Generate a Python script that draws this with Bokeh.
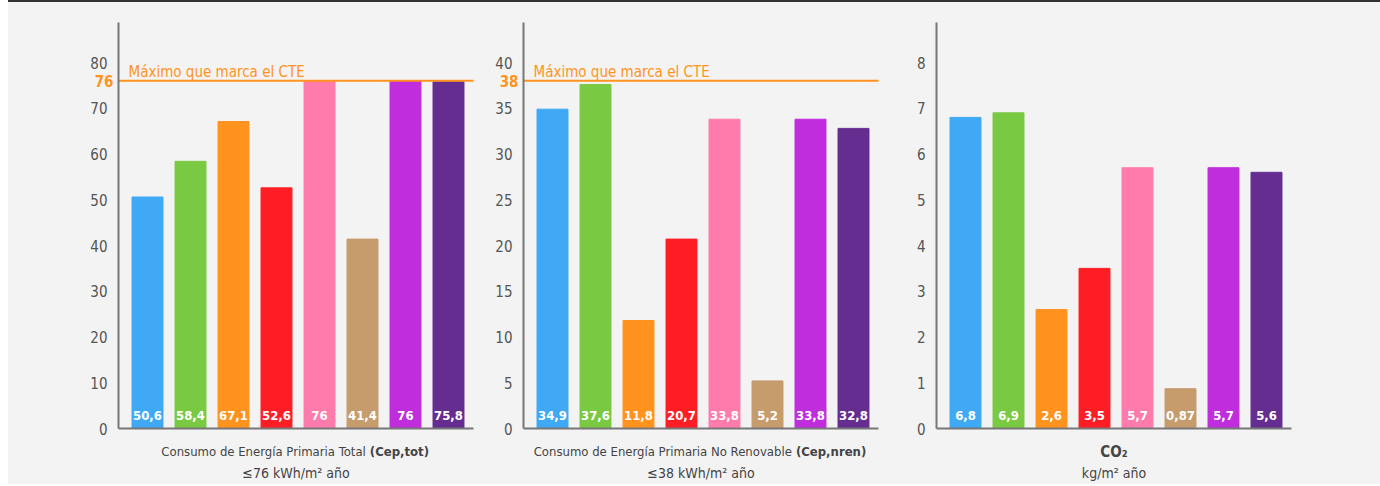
from bokeh.plotting import figure
from bokeh.models import Range1d, FixedTicker, Label, ColumnDataSource, Div
from bokeh.layouts import row, column
from bokeh.embed import file_html
from bokeh.resources import INLINE
from bokeh.core.properties import value

# ---- data ----
bar_colors = ["#3FA9F5", "#7AC943", "#FF931E", "#FF1D25", "#FF7BAC", "#C69C6D", "#C02DDD", "#662D91"]
cep_tot = [50.6, 58.4, 67.1, 52.6, 76, 41.4, 76, 75.8]
cep_nren = [34.9, 37.6, 11.8, 20.7, 33.8, 5.2, 33.8, 32.8]
co2 = [6.8, 6.9, 2.6, 3.5, 5.7, 0.87, 5.7, 5.6]
ticks_tot = [0, 10, 20, 30, 40, 50, 60, 70, 80]
ticks_nren = [0, 5, 10, 15, 20, 25, 30, 35, 40]
ticks_co2 = [0, 1, 2, 3, 4, 5, 6, 7, 8]
limit_tot = 76
limit_nren = 38
limit_text = "Máximo que marca el CTE"

FONT = "DejaVu Sans Condensed"
ORANGE = "#FF931E"
BG = "#F3F3F3"
TXT = "#444444"

H = 482          # figure height (px)
AXIS_Y = 426     # local y of the x axis from top
TOP_Y = 20       # local y of the top of the y axis
PITCH = 43.0     # px per category
OFF0 = 29.0      # px from y axis to first bar centre
PLOT_W = 355.0   # length of x axis (px)


def fmt(v):
    return f"{v:g}".replace(".", ",")


def make_panel(vals, yticks, limit, t_norm, t_bold, subtitle, split, W, A):
    n = len(vals)
    k = (AXIS_Y - 60) / yticks[-1]          # px per unit (top tick 366 px above axis)
    c0 = A + OFF0                            # local x of bar 0 centre
    x0 = -OFF0 / PITCH                       # data x of the y axis
    x1 = x0 + PLOT_W / PITCH
    ytop = (AXIS_Y - TOP_Y) / k
    p = figure(width=W, height=H, min_border=0,
               x_range=Range1d(-c0 / PITCH, (W - c0) / PITCH),
               y_range=Range1d(-(H - AXIS_Y) / k, AXIS_Y / k),
               output_backend="svg", toolbar_location=None)
    p.background_fill_color = BG
    p.border_fill_color = BG
    p.outline_line_color = None
    p.grid.visible = False

    src = ColumnDataSource(dict(x=list(range(n)), top=vals, color=bar_colors[:n],
                                y=[0] * n, lab=[fmt(v) for v in vals]))
    p.vbar(x="x", top="top", bottom=0, width=0.72, color="color", source=src)
    p.text(x="x", y="y", text="lab", source=src, text_align="center", text_baseline="alphabetic",
           y_offset=-13, text_color="white", text_font_style="bold", text_font_size="13px",
           text_font=value(FONT))

    ya = p.yaxis[0]
    ya.fixed_location = x0
    ya.bounds = (0, ytop)
    ya.ticker = FixedTicker(ticks=yticks)
    ya.major_tick_line_color = None
    ya.minor_tick_line_color = None
    ya.axis_line_color = "#777777"
    ya.axis_line_width = 2
    ya.major_label_text_font = FONT
    ya.major_label_text_font_size = "15px"
    ya.major_label_text_color = "#555555"
    ya.major_label_standoff = 5

    xa = p.xaxis[0]
    xa.fixed_location = 0
    xa.bounds = (x0, x1)
    xa.ticker = FixedTicker(ticks=[])
    xa.major_tick_line_color = None
    xa.minor_tick_line_color = None
    xa.axis_line_color = "#777777"
    xa.axis_line_width = 2

    if limit is not None:
        p.segment(x0=[x0], y0=[limit], x1=[x1], y1=[limit], line_color=ORANGE, line_width=2)
        p.add_layout(Label(x=x0, y=limit, x_offset=10, y_offset=9, text=limit_text,
                           text_font=FONT, text_font_size="15px", text_color=ORANGE,
                           text_baseline="alphabetic", text_align="left"))
        p.add_layout(Label(x=x0, y=limit, x_offset=-5, text=str(limit), text_font=FONT,
                           text_font_size="15px", text_font_style="bold", text_color=ORANGE,
                           text_baseline="middle", text_align="right"))

    xc = (x0 + x1) / 2
    if t_norm:
        p.add_layout(Label(x=split, y=0, x_offset=-4, y_offset=-23, text=t_norm, text_font=FONT,
                           text_font_size="13px", text_color=TXT, text_align="right",
                           text_baseline="alphabetic"))
        p.add_layout(Label(x=split, y=0, y_offset=-23, text=t_bold, text_font=FONT,
                           text_font_size="13px", text_font_style="bold", text_color=TXT,
                           text_align="left", text_baseline="alphabetic"))
    else:
        p.add_layout(Label(x=xc, y=0, y_offset=-23, text=t_bold, text_font=FONT,
                           text_font_size="15px", text_font_style="bold", text_color=TXT,
                           text_align="center", text_baseline="alphabetic"))
    p.add_layout(Label(x=xc, y=0, y_offset=-44, text=subtitle, text_font=FONT,
                       text_font_size="14px", text_color=TXT, text_align="center",
                       text_baseline="alphabetic"))
    return p


p1 = make_panel(cep_tot, ticks_tot, limit_tot,
                "Consumo de Energía Primaria Total", "(Cep,tot)", "≤76 kWh/m² año", 5.17, 470, 110)
p2 = make_panel(cep_nren, ticks_nren, limit_nren,
                "Consumo de Energía Primaria No Renovable", "(Cep,nren)", "≤38 kWh/m² año", 5.66, 432, 45)
p3 = make_panel(co2, ticks_co2, None, None, "CO₂", "kg/m² año", None, 470, 26)

topbar = Div(text="", width=1372, height=2, styles={"background-color": "#333333"}, margin=0)
panels = row(p1, p2, p3, spacing=0, styles={"background-color": BG})
layout = column(topbar, panels, spacing=0, margin=(0, 0, 0, 8))

open("out.html", "w").write(file_html(layout, INLINE))
